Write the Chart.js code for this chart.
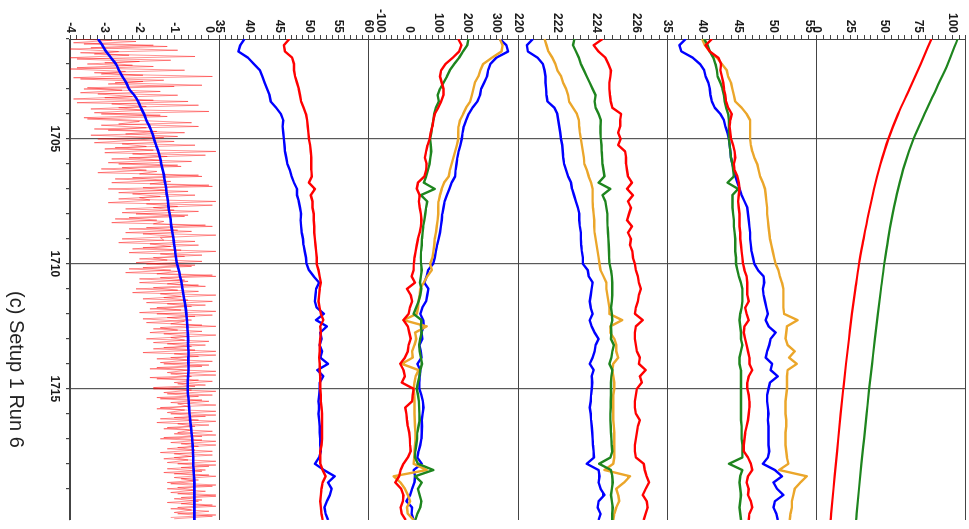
<!DOCTYPE html>
<html>
<head>
<meta charset="utf-8">
<script src="https://cdn.jsdelivr.net/npm/chart.js@4.4.1/dist/chart.umd.min.js"></script>
<style>
  html, body { margin: 0; padding: 0; background: #fff; overflow: hidden; }
  /* the figure is laid out upright and turned a quarter clockwise */
  #fig {
    position: absolute; left: 0; top: 0;
    width: 529px; height: 969px;
    transform-origin: 0 0;
    transform: translate(969px, 0) rotate(90deg);
  }
  #caption {
    position: absolute; left: 291px; top: 942px;
    font: 20px "Liberation Sans", Arial, sans-serif;
    line-height: 20px; color: #222; white-space: nowrap;
  }
</style>
</head>
<body>
<div id="fig">
  <canvas id="chart" width="529" height="969"></canvas>
  <div id="caption">(c) Setup 1 Run 6</div>
</div>
<script>
const yearLabels = [1705, 1710, 1715, 1720];
const p1Labels = [-4, -3, -2, -1, 0];
const p2Labels = [35, 40, 45, 50, 55, 60];
const p3Labels = [-100, 0, 100, 200, 300];
const p4Labels = [220, 222, 224, 226];
const p5Labels = [35, 40, 45, 50, 55];
const p6Labels = [0, 25, 50, 75, 100];

// raw signal, two interleaved passes: every 0.1 yr from 1701.00 and from 1701.05
const p1NoiseA = [
  -3.9,-2.1,-3.6,-1.2,-4.0,-2.6,-3.3,-0.4,-3.8,-2.0,
  -3.5,-1.6,-4.0,-2.4,-3.1,0.1,-3.7,-1.9,-2.9,-1.0,
  -3.6,-1.4,-3.2,-2.2,-3.9,-0.6,-2.8,-1.8,-3.4,0.0,
  -3.1,-1.2,-3.5,-2.0,-2.6,-0.3,-3.3,-1.5,-2.4,-0.9,
  -3.2,-1.0,-2.5,-1.8,-3.0,0.2,-2.2,-1.2,-2.8,-0.5,
  -2.6,-0.8,-3.1,-1.5,-2.0,-0.2,-2.7,-1.1,-1.7,0.1,
  -2.9,-0.6,-2.2,-1.4,-2.6,0.2,-1.8,-0.9,-2.4,-0.3,
  -2.1,-0.7,-2.7,-1.3,-1.6,0.1,-2.3,-0.5,-1.9,-1.0,
  -2.5,-0.4,-1.7,-1.1,-2.2,0.2,-1.4,-0.7,-2.0,-0.2,
  -1.8,-0.5,-2.3,-0.9,-1.5,0.2,-2.0,-0.6,-1.2,-0.1,
  -2.1,-0.3,-1.4,-0.8,-1.9,0.1,-1.2,-0.5,-1.7,0.2,
  -1.5,-0.4,-1.9,-0.7,-1.1,0.2,-1.6,-0.2,-1.3,-0.6,
  -1.8,0.0,-1.2,-0.5,-1.6,0.2,-1.0,-0.3,-1.5,0.1,
  -1.3,-0.2,-1.7,0.2,-1.1,-0.5,-1.5,0.1,-0.9,-0.4,
  -1.6,0.2,-1.2,-0.3,-1.4,0.0,-0.9,-0.6,-1.5,0.2,
  -1.1,-0.1,-1.4,0.2,-0.9,-0.4,-1.3,0.1,-1.0,-0.2,
  -1.4,0.2,-0.8,-0.3,-1.2,0.1,-1.0,-0.5,-1.3,0.2,
  -0.9,0.0,-1.2,-0.2,-1.0,0.2,-0.8,-0.4,-1.1,0.1,
  -1.2,-0.1,-0.9,0.2,-1.0,-0.3,-0.8,0.2,-1.1,0.0,
  -0.9,0.1,-1.0
];
const p1NoiseB = [
  -2.8,-3.9,-1.6,-3.4,-0.9,-3.7,-2.3,-4.0,-1.1,-3.0,
  -2.2,-3.8,-0.7,-3.3,-1.9,-3.9,-1.3,-2.7,-0.2,-3.5,
  -2.5,-3.7,-0.9,-3.0,-1.6,-3.8,-0.3,-2.6,-1.9,-3.3,
  -1.4,-3.6,-2.2,-0.5,-3.1,-1.8,-2.9,-0.7,-3.4,-1.3,
  -2.1,-3.3,-0.4,-2.7,-1.6,-3.0,-0.1,-2.3,-1.4,-2.9,
  -0.9,-2.5,-1.8,-3.2,-0.3,-2.2,-1.3,-2.8,0.0,-1.9,
  -1.2,-2.6,-0.4,-2.0,-1.7,-2.9,0.1,-1.6,-1.0,-2.5,
  -0.6,-2.3,-1.5,-2.8,-0.1,-1.8,-0.9,-2.4,0.2,-1.4,
  -1.3,-2.6,-0.3,-1.9,-0.8,-2.3,-0.2,-1.6,-1.2,-2.1,
  -0.4,-1.9,-1.1,-2.4,0.1,-1.4,-0.7,-2.0,-0.3,-1.6,
  -0.9,-2.2,0.2,-1.3,-0.6,-1.8,-0.1,-1.5,-0.8,-2.0,
  0.1,-1.2,-0.5,-1.8,-0.2,-1.4,-0.9,-1.7,0.2,-1.1,
  -0.7,-1.6,-0.1,-1.3,-0.4,-1.9,0.2,-1.1,-0.6,-1.4,
  0.0,-1.5,-0.6,-1.2,0.2,-1.7,-0.3,-1.0,-0.1,-1.6,
  -0.5,-1.3,0.1,-1.5,-0.2,-1.1,0.2,-1.4,-0.7,-1.2,
  0.2,-1.0,-0.3,-1.5,0.0,-1.2,-0.5,-0.9,0.2,-1.3,
  -0.2,-1.1,0.2,-0.9,-0.4,-1.4,0.1,-1.0,-0.6,-1.2,
  0.2,-0.8,-0.1,-1.3,0.0,-1.0,-0.3,-1.2,0.2,-0.9,
  -0.4,-1.1,0.2,-0.8,-0.2,-1.2,0.1,-0.9,-0.5,-1.0,
  0.2,-1.1
];

// everything below is sampled every 0.25 yr from 1701
const p1Mean = [
  -3.19,-3.07,-2.96,-2.82,-2.68,-2.59,-2.49,-2.38,-2.30,-2.15,
  -2.04,-1.96,-1.87,-1.80,-1.71,-1.64,-1.58,-1.52,-1.46,-1.41,
  -1.37,-1.33,-1.29,-1.26,-1.23,-1.21,-1.18,-1.16,-1.13,-1.10,
  -1.08,-1.05,-1.02,-1.00,-0.97,-0.95,-0.92,-0.87,-0.83,-0.79,
  -0.76,-0.73,-0.70,-0.67,-0.65,-0.63,-0.62,-0.61,-0.60,-0.60,
  -0.59,-0.59,-0.59,-0.59,-0.60,-0.61,-0.61,-0.60,-0.58,-0.57,
  -0.56,-0.54,-0.52,-0.50,-0.48,-0.47,-0.46,-0.45,-0.45,-0.44,
  -0.43,-0.42,-0.42,-0.42,-0.42,-0.42,-0.42,-0.42
];

const p2Red = [
  46.7,45.8,46.0,47.2,47.5,47.5,47.7,48.0,48.3,48.5,
  48.7,49.1,49.5,49.7,49.8,49.9,50.0,50.2,50.3,50.4,
  50.4,50.4,50.5,50.0,51.0,50.3,50.6,50.6,50.8,50.8,
  50.9,50.9,51.0,51.1,51.2,51.3,51.3,51.6,51.8,52.0,
  51.8,51.7,51.6,51.8,52.0,52.4,51.9,52.0,51.9,51.8,
  51.8,51.7,51.8,51.8,51.9,51.9,51.9,52.0,52.0,52.1,
  52.2,52.2,52.2,52.2,52.2,52.1,51.9,51.9,51.9,52.3,
  52.8,52.3,52.1,52.0,51.9,52.0,52.1,52.3
];
const p2Blue = [
  39.2,38.5,38.2,39.8,40.8,41.8,42.2,42.6,43.0,43.4,
  43.6,44.5,45.3,45.7,45.6,45.7,45.8,45.9,46.0,46.2,
  46.4,46.8,47.1,47.5,48.0,48.0,48.3,48.5,48.7,48.6,
  48.7,48.8,49.0,49.1,49.3,49.5,49.6,50.0,50.8,51.7,
  51.2,51.1,51.0,51.3,52.5,51.2,53.0,51.9,52.1,51.8,
  52.2,51.9,53.2,51.4,52.4,51.8,51.8,51.7,51.6,51.7,
  51.6,51.7,51.8,51.8,51.9,51.9,52.0,51.7,51.0,52.5,
  54.3,53.2,53.8,53.5,53.0,52.6,52.8,53.2
];

const p3Red = [
  169,180,172,150,125,110,106,112,118,118,
  110,100,88,83,80,74,70,63,58,54,
  60,58,52,30,26,36,33,36,40,42,
  40,36,30,26,22,18,16,15,8,20,
  -8,5,10,2,-2,-20,-5,0,5,-2,
  -5,-15,-31,-20,-15,-26,15,12,10,-14,
  -10,-8,-5,0,2,3,5,-5,-20,-30,
  -35,-48,-28,-20,-22,-30,-26,-12
];
const p3Green = [
  204,200,185,172,155,140,130,118,106,98,
  102,92,86,83,79,76,72,74,76,73,
  70,64,58,50,88,40,62,58,55,52,
  48,46,44,43,41,40,41,43,40,37,
  42,38,32,24,15,42,40,43,38,34,
  36,40,44,38,35,30,26,30,33,34,
  35,36,32,28,27,24,21,20,30,83,
  20,43,30,36,42,38,28,21
];
const p3Blue = [
  312,335,341,300,280,272,268,258,248,244,
  235,218,205,196,188,184,181,176,170,166,
  163,160,158,146,138,130,122,118,114,112,
  109,106,101,96,92,88,82,65,60,52,
  66,62,58,45,38,48,50,42,45,35,
  40,42,28,38,36,35,35,42,47,49,
  46,43,44,43,42,38,32,28,43,15,
  20,18,10,3,-10,10,8,15
];
const p3Orange = [
  312,322,318,285,255,245,238,226,221,216,
  210,196,186,175,170,169,169,164,158,152,
  146,140,136,120,112,106,101,100,100,98,
  95,92,88,86,83,80,72,78,62,50,
  38,36,32,30,26,-20,60,20,24,18,
  10,12,-26,32,22,18,15,17,18,18,
  18,19,20,21,22,20,18,17,15,60,
  -54,-30,-15,-5,3,-8,-5,15
];

const p4Red = [
  224.3,223.85,224.1,224.45,224.6,224.73,224.7,224.65,224.65,224.68,
  224.72,224.8,225.25,225.2,225.2,225.1,225.22,225.1,225.45,225.5,
  225.5,225.55,225.6,225.8,225.55,225.85,225.6,225.75,225.65,225.55,
  225.8,225.6,225.75,225.7,225.82,225.85,225.95,226.0,226.1,226.15,
  226.25,226.15,226.1,226.0,225.95,226.35,226.0,225.95,225.95,226.0,
  226.05,226.2,226.15,226.5,226.2,226.3,226.05,226.0,225.95,225.95,
  226.0,226.2,226.1,226.05,226.0,225.95,225.95,226.0,226.4,226.45,
  226.55,226.67,226.5,226.35,226.55,226.6,226.5,226.4
];
const p4Green = [
  222.87,222.8,222.95,223.1,223.2,223.35,223.5,223.65,223.8,223.95,
  223.9,223.95,224.1,224.22,224.2,224.2,224.22,224.25,224.26,224.28,
  224.3,224.35,224.4,224.1,224.7,224.3,224.45,224.5,224.55,224.55,
  224.56,224.58,224.6,224.62,224.63,224.64,224.66,224.73,224.78,224.8,
  224.8,224.8,224.78,224.73,224.78,224.8,224.73,224.75,224.73,224.88,
  224.8,224.75,224.65,224.8,224.75,224.73,224.73,224.73,224.72,224.72,
  224.7,224.7,224.72,224.73,224.75,224.77,224.8,224.7,224.13,224.73,
  224.8,224.82,224.78,224.73,224.78,224.82,224.8,224.8
];
const p4Blue = [
  220.76,220.45,220.5,221.0,221.27,221.35,221.4,221.4,221.43,221.45,
  221.5,221.85,222.0,222.05,222.1,222.15,222.19,222.25,222.28,222.3,
  222.35,222.45,222.55,222.7,222.75,222.85,222.95,223.05,223.12,223.12,
  223.15,223.2,223.2,223.22,223.25,223.3,223.3,223.55,223.6,223.8,
  223.75,223.7,223.65,223.7,223.8,223.65,223.75,223.9,224.1,223.95,
  223.9,223.8,223.65,223.85,223.75,223.78,223.75,223.72,223.7,223.65,
  223.7,223.72,223.75,223.78,223.8,223.82,223.85,223.87,223.5,224.1,
  224.15,224.1,224.2,224.4,224.1,224.05,224.2,224.1
];
const p4Orange = [
  221.35,221.45,221.55,221.75,221.9,222.0,222.2,222.3,222.45,222.55,
  222.6,222.8,223.0,223.1,223.12,223.15,223.2,223.25,223.3,223.35,
  223.38,223.5,223.6,223.72,223.8,223.8,223.8,223.82,223.85,223.88,
  223.88,223.9,223.95,224.0,224.05,224.1,224.15,224.2,224.35,224.5,
  224.5,224.55,224.6,224.65,224.65,225.3,224.7,224.7,224.9,225.0,
  225.0,225.1,224.85,224.8,224.85,224.9,224.9,224.85,224.85,224.85,
  224.85,224.85,224.88,224.9,224.9,224.9,224.9,224.9,224.85,224.4,
  225.7,225.4,225.0,225.1,225.15,225.0,224.9,224.85
];

const p5Red = [
  41.3,40.4,41.0,42.2,42.6,42.5,42.7,42.9,43.0,43.2,
  43.3,43.6,44.1,43.9,43.8,43.9,44.0,44.3,44.5,44.6,
  44.4,44.5,44.9,45.1,45.2,45.1,45.0,45.1,45.2,45.2,
  45.2,45.3,45.3,45.4,45.5,45.6,45.7,45.9,46.2,46.3,
  46.3,46.3,46.5,46.0,46.2,46.5,45.9,45.8,46.0,46.2,
  46.4,46.6,46.6,47.0,46.5,46.3,46.3,46.5,46.6,46.6,
  46.5,46.4,46.2,46.0,45.9,45.8,45.8,46.4,46.8,47.0,
  46.4,46.2,46.5,46.4,46.8,47.0,46.6,46.5
];
const p5Green = [
  40.2,40.7,41.0,41.5,41.8,42.0,42.1,42.5,42.8,43.0,
  43.1,43.3,43.6,43.7,43.7,43.7,43.7,43.8,43.9,44.0,
  44.2,44.3,44.4,43.5,45.0,44.2,44.2,44.2,44.3,44.4,
  44.4,44.5,44.6,44.6,44.6,44.7,44.7,44.9,45.1,45.4,
  45.6,45.6,45.6,45.5,45.3,45.2,45.3,45.4,45.4,45.6,
  45.4,45.2,45.2,45.4,45.4,45.4,45.4,45.4,45.4,45.4,
  45.4,45.4,45.5,45.5,45.5,45.6,45.6,45.6,43.7,45.6,
  45.3,45.2,45.3,45.4,45.3,45.2,45.3,45.4
];
const p5Blue = [
  37.6,36.7,37.0,38.6,39.6,40.2,40.4,40.8,41.0,41.1,
  41.3,41.7,42.5,43.0,43.2,43.5,43.7,43.8,43.9,44.0,
  44.2,44.4,44.6,44.9,45.2,45.5,45.9,46.3,46.4,46.5,
  46.6,46.7,46.7,46.8,46.9,47.1,47.3,47.8,48.6,48.7,
  48.5,48.6,48.8,49.0,49.2,48.9,49.3,50.3,49.6,49.4,
  49.1,48.9,49.8,49.6,50.6,49.5,49.3,49.1,49.1,49.2,
  49.3,49.2,49.3,49.3,49.3,49.3,49.4,49.2,48.5,50.2,
  51.2,50.0,50.5,51.4,50.2,50.0,50.4,50.6
];
const p5Orange = [
  39.9,40.3,41.0,42.0,42.7,43.4,43.6,44.0,44.2,44.4,
  44.6,45.5,46.2,46.7,46.7,46.7,46.7,46.8,47.0,47.3,
  47.7,47.9,48.1,48.5,48.8,48.9,49.0,49.1,49.1,49.2,
  49.3,49.4,49.5,49.7,49.9,50.1,50.3,50.7,50.9,51.2,
  51.4,51.4,51.4,51.4,51.5,53.4,51.9,51.8,51.7,52.0,
  53.0,52.2,53.3,52.0,51.9,51.9,51.9,51.8,51.7,51.7,
  51.7,51.8,51.8,51.7,51.7,51.7,51.8,51.9,52.1,50.8,
  54.7,53.8,53.0,52.8,52.6,52.6,52.4,52.3
];

// smooth decay curves, one value per year
const p6Years = [1701,1702,1703,1704,1705,1706,1707,1708,1709,1710,
  1711,1712,1713,1714,1715,1716,1717,1718,1719,1720,1720.25];
const p6Red = [84.5,76.6,68.4,60.0,52.8,47.0,42.2,38.2,34.6,31.2,
  28.5,26.0,23.8,21.6,19.6,17.7,15.9,14.2,12.4,10.7,10.3];
const p6Green = [103.8,96.5,88.0,79.5,71.4,65.0,60.0,56.0,52.6,49.8,
  47.4,45.1,42.9,40.8,38.7,36.8,34.9,33.0,31.2,29.5,29.1];

function sampleTimes(start, step, count) {
  const out = [];
  for (let i = 0; i < count; i++) out.push(+(start + i * step).toFixed(2));
  return out;
}
const quarterYears = sampleTimes(1701, 0.25, p1Mean.length);
const noiseYearsA = sampleTimes(1701, 0.1, p1NoiseA.length);
const noiseYearsB = sampleTimes(1701.05, 0.1, p1NoiseB.length);

const RED = "#ff0000";
const BLUE = "#0000ff";
const GREEN = "#1e851e";
const ORANGE = "#eba62a";
const NOISE = "rgba(255,0,0,0.42)";
const AXIS = "#444";
const GRID = "rgba(60,60,60,0.85)";
const FONT = "'Liberation Sans', Arial, sans-serif";
const TICK_FONT = { family: FONT, size: 12, weight: "bold" };

const pts = (xs, ys) => ys.map((y, i) => ({ x: xs[i], y }));
const pick = (list, v) => {
  const hit = list.find((l) => Math.abs(l - v) < 1e-6);
  return hit === undefined ? "" : String(hit);
};

function series(axis, color, xs, ys, extra) {
  return Object.assign({
    yAxisID: axis,
    data: pts(xs, ys),
    borderColor: color,
    borderWidth: 2.4,
    pointRadius: 0,
    tension: 0,
    borderJoinStyle: "round",
    fill: false,
  }, extra || {});
}

function panelAxis(weight, min, max, step, labels) {
  return {
    type: "linear",
    position: "left",
    stack: "panels",
    stackWeight: 1,
    weight: weight,
    min: min,
    max: max,
    border: { color: AXIS, width: 1 },
    grid: {
      // only the panel edges get a line across the plot
      color: (ctx) => (ctx.index === 0 || ctx.index === ctx.scale.ticks.length - 1) ? AXIS : "transparent",
      tickColor: AXIS,
      tickLength: 4,
    },
    ticks: {
      stepSize: step,
      autoSkip: false,
      padding: 2,
      color: "#1a1a1a",
      font: TICK_FONT,
      callback: (v) => pick(labels, v),
    },
    afterFit: (scale) => {
      scale.width = 39;
      scale.paddingTop = 0;
      scale.paddingBottom = 0;
    },
  };
}

new Chart(document.getElementById("chart"), {
  type: "line",
  data: {
    datasets: [
      series("p1", BLUE, quarterYears, p1Mean, { borderWidth: 2.6, tension: 0.3 }),
      series("p1", NOISE, noiseYearsA, p1NoiseA, { borderWidth: 1 }),
      series("p1", NOISE, noiseYearsB, p1NoiseB, { borderWidth: 1 }),

      series("p2", RED, quarterYears, p2Red),
      series("p2", BLUE, quarterYears, p2Blue),

      series("p3", RED, quarterYears, p3Red),
      series("p3", GREEN, quarterYears, p3Green),
      series("p3", ORANGE, quarterYears, p3Orange),
      series("p3", BLUE, quarterYears, p3Blue),

      series("p4", RED, quarterYears, p4Red),
      series("p4", GREEN, quarterYears, p4Green),
      series("p4", BLUE, quarterYears, p4Blue),
      series("p4", ORANGE, quarterYears, p4Orange),

      series("p5", RED, quarterYears, p5Red),
      series("p5", GREEN, quarterYears, p5Green),
      series("p5", BLUE, quarterYears, p5Blue),
      series("p5", ORANGE, quarterYears, p5Orange),

      series("p6", RED, p6Years, p6Red, { borderWidth: 2.2, cubicInterpolationMode: "monotone" }),
      series("p6", GREEN, p6Years, p6Green, { borderWidth: 2.2, cubicInterpolationMode: "monotone" }),
    ],
  },
  options: {
    responsive: false,
    animation: false,
    events: [],
    layout: { padding: { top: 3, right: 9, left: 0, bottom: 0 } },
    plugins: {
      legend: { display: false },
      tooltip: { enabled: false },
    },
    scales: {
      x: {
        type: "linear",
        position: "bottom",
        min: 1701,
        max: 1720.25,
        border: { color: AXIS, width: 1 },
        grid: {
          color: (ctx) => yearLabels.includes(ctx.tick.value) ? GRID : "transparent",
          lineWidth: 1.2,
          tickColor: (ctx) => Number.isInteger(ctx.tick.value) ? AXIS : "transparent",
          tickLength: 4,
        },
        ticks: {
          stepSize: 1,
          autoSkip: false,
          minRotation: 0,
          maxRotation: 0,
          padding: 4,
          color: "#1a1a1a",
          font: TICK_FONT,
          callback: (v) => pick(yearLabels, v),
        },
        afterFit: (scale) => {
          scale.height = 70;
          scale.paddingLeft = 0;
          scale.paddingRight = 0;
        },
      },
      p1: panelAxis(1, -4, 0.3, 0.2, p1Labels),
      p2: panelAxis(2, 35, 60, 1, p2Labels),
      p3: panelAxis(3, -140, 375, 20, p3Labels),
      p4: panelAxis(4, 220, 227.6, 0.4, p4Labels),
      p5: panelAxis(5, 35, 56.1, 1, p5Labels),
      p6: panelAxis(6, 0, 110, 5, p6Labels),
    },
  },
});
</script>
</body>
</html>
